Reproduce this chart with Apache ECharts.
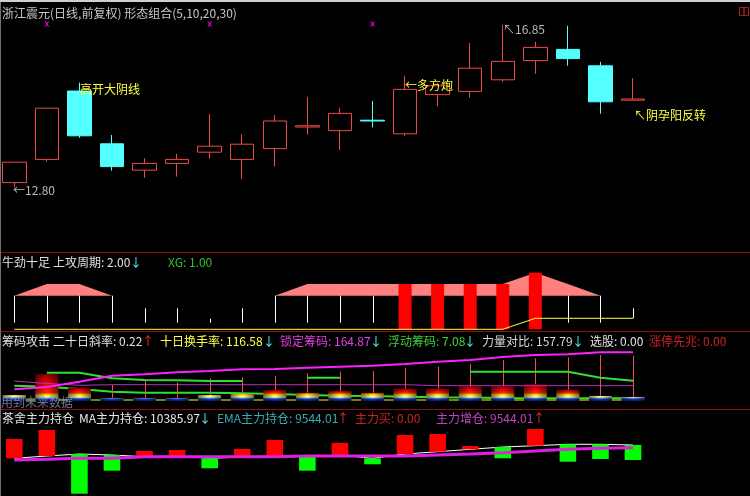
<!DOCTYPE html>
<html style="height: 100%">
<head>
<meta charset="utf-8">
</head>
<body style="height: 100%; margin: 0; background: #000">
<div id="container" style="width: 750px; height: 496px"></div>
<script type="text/javascript" src="https://cdn.jsdelivr.net/npm/echarts/dist/echarts.min.js"></script>
<script type="text/javascript">
var dom = document.getElementById("container");
var myChart = echarts.init(dom);
var FONT = '12px "Noto Sans CJK SC", sans-serif';

// ---- data ----
var days = ['1', '2', '3', '4', '5', '6', '7', '8', '9', '10',
            '11', '12', '13', '14', '15', '16', '17', '18', '19', '20'];
var slots = days.concat(['', '', '']); // empty room on the right

// main panel, daily k-line
var kOpen  = [12.91, 13.49, 15.20, 13.88, 13.22, 13.39, 13.67, 13.49, 13.76, 14.30, 14.21, 14.47, 14.13, 15.11, 15.19, 15.48, 15.96, 16.24, 15.83, 14.97];
var kClose = [13.42, 14.77, 14.08, 13.31, 13.39, 13.49, 13.82, 13.87, 14.45, 14.33, 14.64, 14.45, 15.24, 15.33, 15.77, 15.94, 16.29, 16.01, 14.93, 15.00];
var kLow   = [12.80, 13.43, 14.03, 13.21, 13.03, 13.06, 13.51, 13.00, 13.31, 14.11, 13.73, 14.29, 14.08, 14.82, 15.03, 15.43, 15.63, 15.83, 14.63, 14.97];
var kHigh  = [13.42, 14.77, 15.41, 14.10, 13.52, 13.63, 14.62, 14.12, 14.60, 15.05, 14.78, 14.95, 15.58, 15.40, 16.40, 16.85, 16.43, 16.83, 15.93, 15.52];
var markIdx = [1, 6, 11];
var markPrice = 16.875;

// 牛劲十足
var bandBase = 33.6;
var bandTop  = [33.6, 45.3, 45.3, 33.6, null, null, null, null, 33.6, 45.3, 45.3, 45.3, 45.3, 45.3, 45.3, 45.3, 56.6, 45.3, 33.6, null];
var stickLo  = [6.6, 6.6, 6.6, 6.6, 6.6, 6.6, 6.6, 6.6, 6.6, 6.6, 6.6, 6.6, null, null, null, null, null, 6.6, 6.6, 11];
var stickHi  = [33.6, 33.6, 33.6, 33.6, 21, 21, 10.6, 21, 33.6, 33.6, 33.6, 33.6, null, null, null, null, null, 33.6, 33.6, 21];
var attackBar = [null, null, null, null, null, null, null, null, null, null, null, null, 45.3, 45.3, 45.3, 45.3, 56.6, null, null, null];
var cycleLine = [0, 0, 0, 0, 0, 0, 0, 0, 0, 0, 0, 0, 0, 0, 0, 0, 11, 11, 11, 11];

// 筹码攻击
var chipBar   = [6, 27, 13.3, 3.3, 3.3, 3.3, 6, 7, 11, 8.3, 10, 8.3, 12.3, 12.3, 14.7, 14.7, 16.7, 11.3, 5.3, 4.3];
var chipStick = [null, null, null, 16, 20, 18.3, 22.7, 23.7, 25, 27.7, 29.3, 30, 33.3, 34.3, 37, 41, 42.7, 43.7, 46, 45];
var lockLine  = [11.7, 14, 19.3, 25.3, 26.7, 28.7, 30, 31.7, 32, 33.3, 34.3, 35.3, 37, 39.3, 41, 44, 46, 46.7, 48.7, 48.7];
var thinLine  = [20, 17.5, 15.7, 16.3, 16.3, 16.3, 16.3, 16.3, 16.3, 16.3, 16.3, 16.3, 16.3, 15.3, 15.3, 15.3, 15.3, 15.3, 15.3, 15.3];
var floatUp   = [null, 28.3, 28.3, 22.7, 21, 20.7, 20, 20, null, 23.3, 23.3, null, null, null, 29.3, 29.3, 29.3, 29.3, 23.3, 20.3];
var floatLow  = [15.3, 14.3, 12, 9.3, 8.3, 8.3, 8.3, 7.7, 7, 6, 5.3, 5, 4.3, 3.7, 3.5, 3, 2.7, 2.7, 2.7, 2.7];
var chipBase  = [1, 1, 1, 1, 1, 1, 1, 1, 1, 1, 1, 1, 1, 1, 1, 1, 1, 1, 1, 1];

// 茶舍主力持仓
var holdMa  = [37.7, 40, 42, 41, 39.3, 40, 37.7, 39, 40, 39.3, 41, 37.7, 42, 44.3, 46.7, 49, 50.3, 51.7, 51.7, 51];
var holdNow = [57, 66, 2.3, 25.3, 45, 46, 27.7, 47, 56, 25.3, 53, 31.7, 61, 62, 50, 37.7, 67, 34.3, 37, 36];
var holdEma = [36, 36.7, 37.7, 37.7, 39.3, 39.3, 39.3, 39.3, 39.3, 40, 40, 40, 40, 41, 42, 43.3, 45, 46.7, 47.7, 48.3];

// ---- helpers ----
function spans(lo, hi) {
    var out = [];
    for (var i = 0; i < lo.length; i++) {
        if (lo[i] != null && hi[i] != null) out.push([i, lo[i], hi[i]]);
    }
    return out;
}

function stickRender(color) {
    return function (params, api) {
        var a = api.coord([api.value(0), api.value(1)]);
        var b = api.coord([api.value(0), api.value(2)]);
        var x = Math.round(a[0]) + 0.5;
        return {
            type: 'line',
            shape: { x1: x, y1: a[1], x2: x, y2: b[1] },
            style: { stroke: color, lineWidth: 1 }
        };
    };
}

function chipRender(params, api) {
    var i = api.value(0);
    var top = api.coord([i, api.value(1)]);
    var bot = api.coord([i, 0]);
    var w = api.size([1, 0])[0] * 0.7;
    var h = bot[1] - top[1];
    var f = function (px) { return Math.max(0, Math.min(1, 1 - px / h)); };
    var fill = new echarts.graphic.LinearGradient(0, 0, 0, 1, [
        { offset: 0, color: '#8a0000' },
        { offset: f(8 + (h - 8) * 0.6), color: '#e00000' },
        { offset: f(8), color: '#ff2a10' },
        { offset: f(6.5), color: '#ffd000' },
        { offset: f(4.5), color: '#ffff60' },
        { offset: f(3.2), color: '#90d8ff' },
        { offset: f(2.2), color: '#2040d0' },
        { offset: 1, color: '#0c1470' }
    ]);
    var shade = new echarts.graphic.LinearGradient(0, 0, 1, 0, [
        { offset: 0, color: 'rgba(0,0,0,0.5)' },
        { offset: 0.45, color: 'rgba(0,0,0,0)' },
        { offset: 0.55, color: 'rgba(0,0,0,0)' },
        { offset: 1, color: 'rgba(0,0,0,0.5)' }
    ]);
    var shape = { x: top[0] - w / 2, y: top[1], width: w, height: h };
    return {
        type: 'group',
        children: [
            { type: 'rect', shape: shape, style: { fill: fill } },
            { type: 'rect', shape: shape, style: { fill: shade } }
        ]
    };
}

function holdRender(params, api) {
    var i = api.value(0);
    var a = api.coord([i, api.value(1)]);
    var b = api.coord([i, api.value(2)]);
    var w = api.size([1, 0])[0] * 0.51;
    var up = api.value(2) > api.value(1);
    return {
        type: 'rect',
        shape: { x: a[0] - w / 2, y: Math.min(a[1], b[1]), width: w, height: Math.abs(a[1] - b[1]) },
        style: { fill: up ? '#ff0000' : '#00ff00' }
    };
}

function plainLine(grid, data, color, width, z) {
    return {
        type: 'line', xAxisIndex: grid, yAxisIndex: grid, data: data,
        symbol: 'none', connectNulls: false, z: z, silent: true,
        lineStyle: { color: color, width: width }
    };
}

// ---- texts ----
var graphics = [];
function label(x, y, s, color) {
    graphics.push({
        type: 'text', x: x, y: y, z: 100, silent: true,
        style: { text: s, fill: color, font: FONT, textVerticalAlign: 'middle', verticalAlign: 'middle' }
    });
}
function hline(y) {
    graphics.push({
        type: 'line', z: 90, silent: true,
        shape: { x1: 0, y1: y, x2: 750, y2: y },
        style: { stroke: '#8c1010', lineWidth: 1 }
    });
}

graphics.push({ type: 'rect', shape: { x: 0, y: 0, width: 750, height: 2 }, style: { fill: '#c8d0d8' }, z: 95 });
graphics.push({ type: 'line', shape: { x1: 0.5, y1: 2, x2: 0.5, y2: 496 }, style: { stroke: '#707070', lineWidth: 1 }, z: 95 });
graphics.push({ type: 'rect', shape: { x: 739.5, y: 7.5, width: 4.5, height: 8 }, style: { fill: 'none', stroke: '#a02020' }, z: 95 });
graphics.push({ type: 'rect', shape: { x: 744, y: 7.5, width: 4.5, height: 8 }, style: { fill: 'none', stroke: '#a02020' }, z: 95 });
hline(252.5);
hline(331.5);
hline(409.5);

label(2, 13, '浙江震元(日线,前复权) 形态组合(5,10,20,30)', '#c8c8c8');
label(13, 190, '←12.80', '#b8b8b8');
label(503, 29, '↖16.85', '#b8b8b8');
label(80, 89, '高开大阴线', '#ffff40');
label(405, 85, '←多方炮', '#ffff40');
label(634, 115, '↖阴孕阳反转', '#ffff40');

label(2, 262, '牛劲十足', '#e0e0e0');
label(53, 262, '上攻周期: 2.00', '#e0e0e0');
label(130, 262, '↓', '#54ffff');
label(168, 262, 'XG: 1.00', '#30c030');

label(2, 341, '筹码攻击', '#e0e0e0');
label(53, 341, '二十日斜率: 0.22', '#e0e0e0');
label(142, 341, '↑', '#ff3030');
label(160, 341, '十日换手率: 116.58', '#ffff50');
label(263, 341, '↓', '#54ffff');
label(280, 341, '锁定筹码: 164.87', '#e040e0');
label(370, 341, '↓', '#54ffff');
label(388, 341, '浮动筹码: 7.08', '#40d040');
label(464, 341, '↓', '#54ffff');
label(482, 341, '力量对比: 157.79', '#d8d8d8');
label(572, 341, '↓', '#54ffff');
label(590, 341, '选股: 0.00', '#e0e0e0');
label(649, 341, '涨停先兆: 0.00', '#d02020');
label(1, 402, '用到未来数据', 'rgba(130,145,200,0.8)');

label(2, 418, '茶舍主力持仓', '#e0e0e0');
label(79, 418, 'MA主力持仓: 10385.97', '#e8e8e8');
label(199, 418, '↓', '#54ffff');
label(217, 418, 'EMA主力持仓: 9544.01', '#40a8b0');
label(337, 418, '↑', '#ff3030');
label(355, 418, '主力买: 0.00', '#d02020');
label(436, 418, '主力增仓: 9544.01', '#c040c0');
label(533, 418, '↑', '#ff3030');

// ---- option ----
var candles = days.map(function (d, i) {
    return [kOpen[i], kClose[i], kLow[i], kHigh[i]];
});
var bandLow = bandTop.map(function (v) { return v == null ? null : bandBase; });
var bandDelta = bandTop.map(function (v) { return v == null ? null : +(v - bandBase).toFixed(2); });

option = {
    backgroundColor: '#000',
    animation: false,
    grid: [
        { left: -2, right: 3, top: 14, height: 236, outerBoundsMode: 'none' },
        { left: -2, right: 3, top: 252, height: 80, outerBoundsMode: 'none' },
        { left: -2, right: 3, top: 332, height: 77, outerBoundsMode: 'none' },
        { left: -2, right: 3, top: 409, height: 87, outerBoundsMode: 'none' }
    ],
    xAxis: [0, 1, 2, 3].map(function (g) {
        return { type: 'category', gridIndex: g, data: slots, show: false, boundaryGap: true };
    }),
    yAxis: [
        { type: 'value', gridIndex: 0, min: 11.225, max: 17.125, show: false },
        { type: 'value', gridIndex: 1, min: -2.7, max: 77.3, show: false },
        { type: 'value', gridIndex: 2, min: -8, max: 69, show: false },
        { type: 'value', gridIndex: 3, min: 0, max: 87, show: false }
    ],
    graphic: graphics,
    series: [
        {
            type: 'candlestick', xAxisIndex: 0, yAxisIndex: 0,
            data: candles, barWidth: 24, silent: true,
            itemStyle: {
                color: '#000', color0: '#54ffff',
                borderColor: '#f04848', borderColor0: '#54ffff', borderWidth: 1
            }
        },
        {
            type: 'scatter', xAxisIndex: 0, yAxisIndex: 0, silent: true,
            data: markIdx.map(function (i) { return [i, markPrice]; }),
            symbol: 'path://M0,0L3,0L5,3L7,0L10,0L6.5,5L10,10L7,10L5,7L3,10L0,10L3.5,5Z',
            symbolSize: 5, itemStyle: { color: '#ff00ff' }
        },
        // 牛劲十足
        {
            type: 'line', xAxisIndex: 1, yAxisIndex: 1, stack: 'band', data: bandLow,
            symbol: 'none', silent: true, lineStyle: { width: 0 }, z: 1
        },
        {
            type: 'line', xAxisIndex: 1, yAxisIndex: 1, stack: 'band', data: bandDelta,
            symbol: 'none', silent: true, lineStyle: { width: 0 },
            areaStyle: { color: '#ff8080', opacity: 1 }, z: 1
        },
        {
            type: 'custom', xAxisIndex: 1, yAxisIndex: 1, silent: true, z: 2,
            data: spans(stickLo, stickHi), encode: { x: 0, y: [1, 2] },
            renderItem: stickRender('#ffffff')
        },
        {
            type: 'bar', xAxisIndex: 1, yAxisIndex: 1, data: attackBar, silent: true,
            barWidth: 13, itemStyle: { color: '#ff0000' }, z: 3
        },
        plainLine(1, cycleLine, '#ffff40', 1, 4),
        // 筹码攻击
        plainLine(2, chipBase, '#ffff00', 1, 1),
        plainLine(2, floatLow, '#30e030', 2, 1),
        {
            type: 'custom', xAxisIndex: 2, yAxisIndex: 2, silent: true, z: 2,
            data: chipBar.map(function (v, i) { return [i, v]; }), encode: { x: 0, y: 1 },
            renderItem: chipRender
        },
        plainLine(2, thinLine, '#b830b8', 1, 3),
        {
            type: 'custom', xAxisIndex: 2, yAxisIndex: 2, silent: true, z: 4,
            data: spans(chipBar, chipStick), encode: { x: 0, y: [1, 2] },
            renderItem: stickRender('#f05050')
        },
        plainLine(2, floatUp, '#30e030', 2, 5),
        plainLine(2, lockLine, '#ff20ff', 2, 5),
        // 茶舍主力持仓
        plainLine(3, holdMa, '#ffffff', 1, 1),
        {
            type: 'custom', xAxisIndex: 3, yAxisIndex: 3, silent: true, z: 2,
            data: spans(holdMa, holdNow), encode: { x: 0, y: [1, 2] },
            renderItem: holdRender
        },
        plainLine(3, holdEma, '#e020e0', 3, 3)
    ]
};

if (option && typeof option === "object") {
    myChart.setOption(option, true);
}
</script>
</body>
</html>
